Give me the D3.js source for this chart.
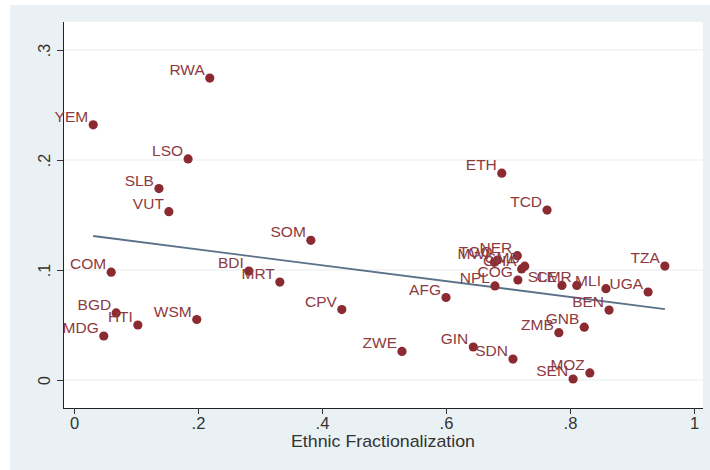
<!DOCTYPE html>
<html>
<head>
<meta charset="utf-8">
<script src="https://cdn.jsdelivr.net/npm/d3@7/dist/d3.min.js"></script>
<style>
  html, body { margin: 0; padding: 0; background: #ffffff; }
  svg { display: block; }
  text { font-family: "Liberation Sans Narrow", "Arial Narrow", "Liberation Sans", Arial, sans-serif; }
</style>
</head>
<body>
<script>
// Country codes, ethnic fractionalization (x) and outcome (y)
const countries = ["RWA","YEM","LSO","SLB","VUT","SOM","COM","BDI","MRT","BGD","HTI","WSM","MDG","CPV","ZWE","AFG","GIN","SDN","ETH","TCD","TZA","NER","MWI","TGO","GMB","GHA","COG","NPL","SLE","CMR","MLI","UGA","BEN","GNB","ZMB","MOZ","SEN"];
const ethnicFrac = [0.219,0.031,0.184,0.137,0.153,0.382,0.060,0.282,0.332,0.068,0.103,0.198,0.048,0.432,0.529,0.600,0.644,0.708,0.690,0.763,0.953,0.715,0.678,0.683,0.727,0.722,0.716,0.679,0.787,0.811,0.858,0.926,0.863,0.823,0.782,0.832,0.805];
const outcome    = [0.2745,0.232,0.201,0.174,0.153,0.127,0.098,0.099,0.089,0.061,0.050,0.055,0.040,0.064,0.026,0.075,0.030,0.019,0.188,0.1545,0.1036,0.113,0.107,0.109,0.1035,0.101,0.0909,0.0855,0.086,0.086,0.083,0.080,0.0636,0.048,0.043,0.0064,0.0009];

// Linear fit, evaluated at the ends of the data range
const fitX = [0.031, 0.953];
const fitY = [0.1309, 0.0645];

const xTicks = [0, 0.2, 0.4, 0.6, 0.8, 1];
const xTickLabels = ["0", ".2", ".4", ".6", ".8", "1"];
const yTicks = [0, 0.1, 0.2, 0.3];
const yTickLabels = ["0", ".1", ".2", ".3"];
const xTitle = "Ethnic Fractionalization";

const W = 710, H = 470;
const plot = { left: 63, right: 703, top: 22, bottom: 408 };

const svg = d3.select("body").append("svg").attr("width", W).attr("height", H);

// Graph region background
svg.append("rect").attr("x", 10).attr("y", 5).attr("width", W - 10).attr("height", H - 5)
  .attr("fill", "#e9f1f4");
// Plot region
svg.append("rect").attr("x", plot.left).attr("y", plot.top)
  .attr("width", plot.right - plot.left).attr("height", plot.bottom - plot.top)
  .attr("fill", "#ffffff");

const x = d3.scaleLinear().domain([-0.01774, 1.01452]).range([plot.left, plot.right]);
const y = d3.scaleLinear().domain([-0.02545, 0.32545]).range([plot.bottom, plot.top]);

// Horizontal grid lines
svg.append("g").selectAll("line").data(yTicks).join("line")
  .attr("x1", plot.left).attr("x2", plot.right)
  .attr("y1", d => y(d)).attr("y2", d => y(d))
  .attr("stroke", "#e8eef0").attr("stroke-width", 1.2);

// Y axis
const yAxis = d3.axisLeft(y).tickValues(yTicks).tickSize(6).tickPadding(0)
  .tickFormat((d, i) => yTickLabels[i]);
const gy = svg.append("g").attr("transform", `translate(${plot.left},0)`).call(yAxis);
gy.select(".domain").attr("stroke", "#222").attr("d", `M0.5,${plot.top}V${plot.bottom}`);
gy.selectAll(".tick line").attr("stroke", "#333");
gy.selectAll(".tick text")
  .attr("x", 0).attr("dy", null)
  .attr("transform", "translate(-19,0) rotate(-90)")
  .attr("text-anchor", "middle").attr("dominant-baseline", "central")
  .attr("fill", "#333").style("font-size", "16px");

// X axis
const xAxis = d3.axisBottom(x).tickValues(xTicks).tickSize(6).tickPadding(3)
  .tickFormat((d, i) => xTickLabels[i]);
const gx = svg.append("g").attr("transform", `translate(0,${plot.bottom})`).call(xAxis);
gx.select(".domain").attr("stroke", "#222").attr("d", `M${plot.left},0.5H${plot.right}`);
gx.selectAll(".tick line").attr("stroke", "#333");
gx.selectAll(".tick text").attr("fill", "#333").style("font-size", "16.5px");

svg.append("text").attr("x", 383).attr("y", 447)
  .attr("text-anchor", "middle").attr("fill", "#333").style("font-size", "17px")
  .attr("textLength", 184).attr("lengthAdjust", "spacingAndGlyphs")
  .text(xTitle);

// Fitted line
const fit = fitX.map((v, i) => [v, fitY[i]]);
svg.append("path").datum(fit)
  .attr("d", d3.line().x(d => x(d[0])).y(d => y(d[1])))
  .attr("fill", "none").attr("stroke", "#5a7189").attr("stroke-width", 1.8);

// Points with labels to the left
const pts = countries.map((c, i) => ({ c, x: ethnicFrac[i], y: outcome[i] }));
const g = svg.append("g");
g.selectAll("circle").data(pts).join("circle")
  .attr("cx", d => x(d.x)).attr("cy", d => y(d.y)).attr("r", 4.6)
  .attr("fill", "#8b2a30");
g.selectAll("text").data(pts).join("text")
  .attr("x", d => x(d.x) - 5).attr("y", d => y(d.y) - 3)
  .attr("text-anchor", "end").attr("fill", "#8d3a40")
  .style("font-size", "15.5px")
  .text(d => d.c);
</script>
</body>
</html>
